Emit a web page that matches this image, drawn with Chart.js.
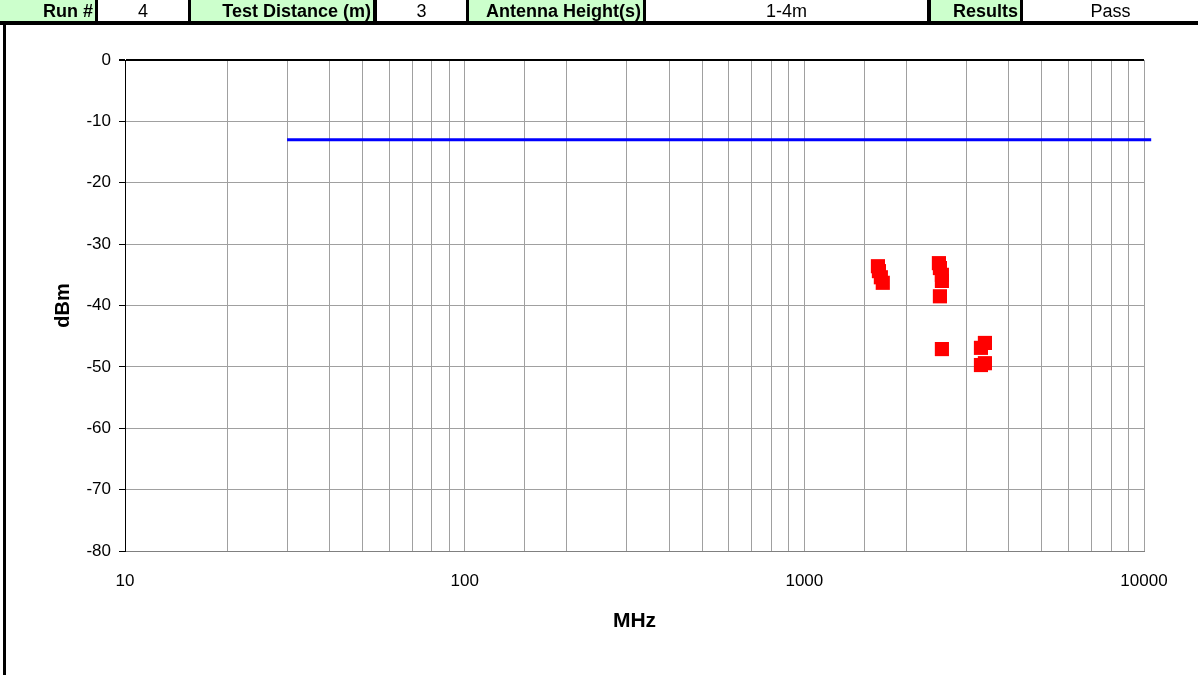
<!DOCTYPE html>
<html lang="en">
  <head>
    <meta charset="UTF-8" />
    <title>Radiated Spurious Emissions</title>
    <script src="https://cdn.jsdelivr.net/npm/chart.js"></script>
    <style>
      body {
        margin: 0;
        font-family: Arial, "Liberation Sans", sans-serif;
        background: #fff;
      }
      .page {
        position: relative;
        width: 1198px;
        height: 675px;
        overflow: hidden;
      }
      canvas {
        position: absolute;
        left: 0;
        top: 0;
      }
      .header {
        position: absolute;
        left: 0;
        top: 0;
        width: 1198px;
        height: 21px;
        display: flex;
        border-bottom: 4px solid #000;
      }
      .cell {
        height: 21px;
        line-height: 22px;
        font-size: 18px;
        color: #000;
        box-sizing: border-box;
        white-space: nowrap;
        overflow: hidden;
      }
      .label {
        background: #ccffcc;
        font-weight: bold;
        text-align: right;
        padding-right: 2px;
      }
      .value {
        background: #fff;
        text-align: center;
      }
      .sep {
        background: #000;
      }
      .frame-left {
        position: absolute;
        left: 3px;
        top: 21px;
        width: 3px;
        height: 654px;
        background: #000;
      }
    </style>
  </head>
  <body>
    <div class="page">
      <canvas id="graph" width="1198" height="675"></canvas>
      <div class="header">
        <div class="cell label" style="width: 95px">Run #</div>
        <div class="cell sep" style="width: 3px"></div>
        <div class="cell value" style="width: 90px">4</div>
        <div class="cell sep" style="width: 3px"></div>
        <div class="cell label" style="width: 182px">Test Distance (m)</div>
        <div class="cell sep" style="width: 4px"></div>
        <div class="cell value" style="width: 89px">3</div>
        <div class="cell sep" style="width: 3px"></div>
        <div class="cell label" style="width: 174px">Antenna Height(s)</div>
        <div class="cell sep" style="width: 3px"></div>
        <div class="cell value" style="width: 281px">1-4m</div>
        <div class="cell sep" style="width: 4px"></div>
        <div class="cell label" style="width: 89px">Results</div>
        <div class="cell sep" style="width: 3px"></div>
        <div class="cell value" style="width: 175px">Pass</div>
      </div>
      <div class="frame-left"></div>
    </div>

    <script>
      // measured emissions (MHz, dBm)
      const scanFreq = [1647, 1658, 1680, 1702, 2490, 2507, 2541, 2541, 2507, 2541, 3401, 3311, 3311, 3401];
      const scanLevel = [-33.6, -34.4, -35.4, -36.3, -33.1, -33.9, -35.0, -36.0, -38.5, -47.1, -46.1, -46.9, -49.7, -49.4];

      // limit line
      const limitFreq = [30, 10500];
      const limitLevel = [-13, -13];

      // decades that get a label on the x axis
      const xLabelValues = [10, 100, 1000, 10000];

      const gridGray = "#a0a0a0";
      const fontFamily = "Arial, 'Liberation Sans'";

      new Chart(document.getElementById("graph"), {
        type: "scatter",
        data: {
          datasets: [
            {
              label: "Limit",
              data: limitFreq.map((f, i) => ({ x: f, y: limitLevel[i] })),
              showLine: true,
              borderColor: "#0000ff",
              borderWidth: 3,
              pointRadius: 0,
              clip: false,
            },
            {
              label: "Emissions",
              data: scanFreq.map((f, i) => ({ x: f, y: scanLevel[i] })),
              pointStyle: "rect",
              pointRadius: 10,
              pointHoverRadius: 10,
              backgroundColor: "#ff0000",
              borderColor: "#ff0000",
              borderWidth: 0,
            },
          ],
        },
        options: {
          responsive: false,
          animation: false,
          events: [],
          layout: { padding: { top: 60, right: 54, left: 0, bottom: 0 } },
          plugins: {
            legend: { display: false },
            tooltip: { enabled: false },
          },
          scales: {
            x: {
              type: "logarithmic",
              min: 10,
              max: 10000,
              afterFit(scale) {
                scale.height = 124;
              },
              grid: {
                color: (c) => (c.tick && c.tick.value === 10 ? "#000" : gridGray),
                drawTicks: false,
              },
              border: { color: "#808080", width: 1 },
              ticks: {
                autoSkip: false,
                maxRotation: 0,
                padding: 20,
                color: "#000",
                font: { family: fontFamily, size: 17 },
                callback: (v) => (xLabelValues.includes(v) ? String(v) : ""),
              },
              title: {
                display: true,
                text: "MHz",
                color: "#000",
                font: { family: fontFamily, size: 21, weight: "bold" },
                padding: { top: 0, bottom: 41 },
              },
            },
            y: {
              min: -80,
              max: 0,
              afterFit(scale) {
                scale.width = 125;
              },
              grid: {
                color: (c) => (c.tick && c.tick.value === 0 ? "#000" : gridGray),
                lineWidth: (c) => (c.tick && c.tick.value === 0 ? 2 : 1),
                tickColor: "#000",
                tickLength: 6,
              },
              border: { color: "#000", width: 1 },
              ticks: {
                stepSize: 10,
                padding: 8,
                color: "#000",
                font: { family: fontFamily, size: 17 },
              },
              title: {
                display: true,
                text: "dBm",
                color: "#000",
                font: { family: fontFamily, size: 20, weight: "bold" },
                padding: { top: 51, bottom: 0 },
              },
            },
          },
        },
      });
    </script>
  </body>
</html>
